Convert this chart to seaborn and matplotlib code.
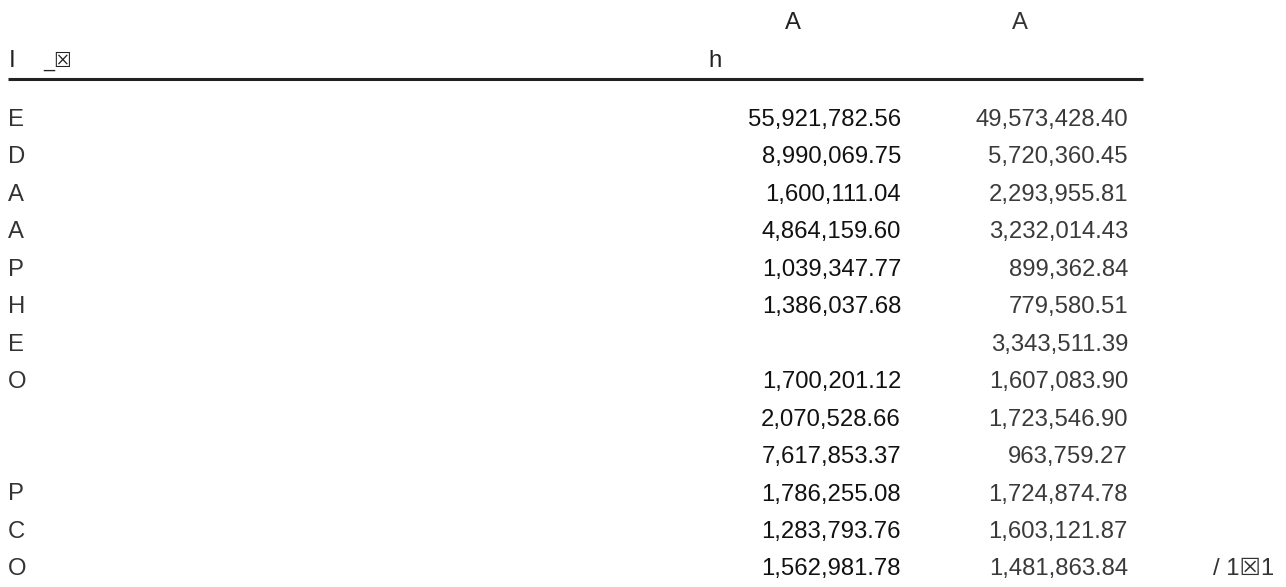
import matplotlib
matplotlib.use("Agg")
import matplotlib.pyplot as plt
import seaborn as sns
import pandas as pd

# ---- data ----
row_labels = ["E", "D", "A", "A", "P", "H", "E", "O", "", "", "P", "C", "O"]
value_a = ["55,921,782.56", "8,990,069.75", "1,600,111.04", "4,864,159.60",
           "1,039,347.77", "1,386,037.68", "", "1,700,201.12",
           "2,070,528.66", "7,617,853.37", "1,786,255.08", "1,283,793.76",
           "1,562,981.78"]
value_b = ["49,573,428.40", "5,720,360.45", "2,293,955.81", "3,232,014.43",
           "899,362.84", "779,580.51", "3,343,511.39", "1,607,083.90",
           "1,723,546.90", "963,759.27", "1,724,874.78", "1,603,121.87",
           "1,481,863.84"]
header_left = "I"
header_left_mark = "_\u2612"
header_mid = "h"
header_a = "A"
header_b = "A"
footer_note = "/ 1\u26121"

df = pd.DataFrame({"label": row_labels, "a": value_a, "b": value_b})

sns.set_theme(style="white")
plt.rcParams["font.family"] = ["Liberation Sans", "DejaVu Sans"]

W, H = 1286, 587
fig = plt.figure(figsize=(W / 100, H / 100), dpi=100)
ax = fig.add_axes([0, 0, 1, 1])
row_h = 37.45
first_row = 118
ax.set_xlim(0, W)
ax.set_ylim((H - first_row) / row_h, -first_row / row_h)
ax.axis("off")

fs = 17.2
base_off = 8 / row_h
col_label_x = 8
col_a_right = 901
col_b_right = 1128

for i, r in df.iterrows():
    ax.text(col_label_x, i + base_off, r["label"], ha="left", va="baseline",
            fontsize=fs, color="#333333")
    ax.text(col_a_right, i + base_off, r["a"], ha="right", va="baseline",
            fontsize=fs, color="#111111")
    ax.text(col_b_right, i + base_off, r["b"], ha="right", va="baseline",
            fontsize=fs, color="#3a3a3a")

# header
hdr2 = (59 - first_row) / row_h + base_off
hdr1 = (21 - first_row) / row_h + base_off
ax.text(9, hdr2, header_left, ha="left", va="baseline", fontsize=fs, color="#222222")
ax.text(43, hdr2, header_left_mark, ha="left", va="baseline", fontsize=fs - 3,
        color="#222222")
ax.text(708, hdr2, header_mid, ha="left", va="baseline", fontsize=fs, color="#222222")
ax.text(785, hdr1, header_a, ha="left", va="baseline", fontsize=fs, color="#222222")
ax.text(1012, hdr1, header_b, ha="left", va="baseline", fontsize=fs, color="#333333")
ax.plot([8, 1143], [(79 - first_row) / row_h] * 2, color="#222222", lw=2.2,
        solid_capstyle="butt")

ax.text(1213, len(df) - 1 + base_off, footer_note, ha="left", va="baseline",
        fontsize=fs, color="#333333")

fig.savefig("out.png", dpi=100)
